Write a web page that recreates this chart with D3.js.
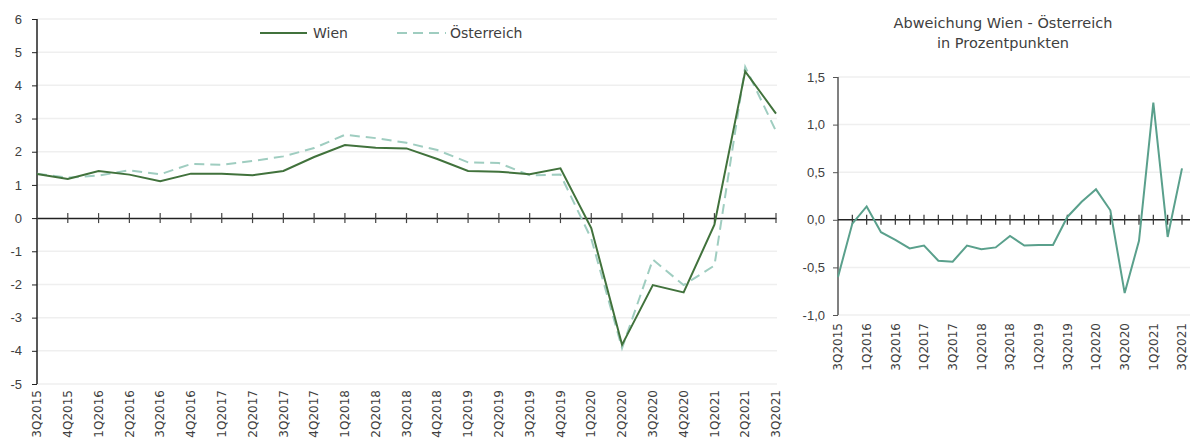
<!DOCTYPE html>
<html>
<head>
<meta charset="utf-8">
<script src="https://cdn.jsdelivr.net/npm/d3@7"></script>
<style>
  body { margin: 0; background: #fff; }
  svg { display: block; font-family: "DejaVu Sans", sans-serif; }
</style>
</head>
<body>
<div id="chart"></div>
<script>
// Data
var quarters = ['3Q2015', '4Q2015', '1Q2016', '2Q2016', '3Q2016', '4Q2016', '1Q2017', '2Q2017', '3Q2017',
  '4Q2017', '1Q2018', '2Q2018', '3Q2018', '4Q2018', '1Q2019', '2Q2019', '3Q2019', '4Q2019',
  '1Q2020', '2Q2020', '3Q2020', '4Q2020', '1Q2021', '2Q2021', '3Q2021'];

var wien = [1.33, 1.18, 1.42, 1.31, 1.11, 1.34, 1.34, 1.29, 1.42, 1.84, 2.20, 2.12, 2.10, 1.78,
  1.42, 1.40, 1.32, 1.50, -0.30, -3.82, -2.02, -2.24, -0.20, 4.42, 3.15];

var oesterreich = [1.34, 1.22, 1.28, 1.44, 1.32, 1.63, 1.61, 1.72, 1.86, 2.11, 2.51, 2.41, 2.27, 2.05,
  1.68, 1.66, 1.29, 1.31, -0.62, -3.92, -1.25, -2.02, -1.43, 4.56, 2.62];

var abweichung = [-0.60, -0.04, 0.14, -0.13, -0.21, -0.30, -0.27, -0.43, -0.44, -0.27, -0.31, -0.29,
  -0.17, -0.27, -0.265, -0.265, 0.03, 0.19, 0.32, 0.10, -0.77, -0.22, 1.23, -0.18, 0.54];

var leftTicks = [-5, -4, -3, -2, -1, 0, 1, 2, 3, 4, 5, 6];
var rightTicks = [-1.0, -0.5, 0.0, 0.5, 1.0, 1.5];

var svg = d3.select('#chart')
  .append('svg')
  .attr('width', 1190)
  .attr('height', 441);

var textColor = '#404040';

// ---------- left chart ----------
var left = { x0: 37, x1: 776, y0: 19, y1: 384 };

var xLeft = d3.scalePoint()
  .domain(quarters)
  .range([left.x0, left.x1]);

var yLeft = d3.scaleLinear()
  .domain([-5, 6])
  .range([left.y1, left.y0]);

var gLeft = svg.append('g');

// gridlines
gLeft.append('g')
  .selectAll('line')
  .data(leftTicks.filter(d => d !== 0))
  .enter()
  .append('line')
  .attr('x1', left.x0)
  .attr('x2', left.x1 + 1)
  .attr('y1', d => yLeft(d))
  .attr('y2', d => yLeft(d))
  .attr('stroke', '#efefef')
  .attr('stroke-width', 1.5);

// y axis
var yAxisLeft = gLeft.append('g')
  .attr('transform', `translate(${left.x0}, 0)`)
  .call(d3.axisLeft(yLeft).tickValues(leftTicks).tickSize(5).tickPadding(10).tickFormat(d3.format('d')));
yAxisLeft.select('.domain').attr('stroke', '#222').attr('stroke-width', 1.5).attr('d', `M0,${left.y0}V${left.y1}`);
yAxisLeft.selectAll('.tick line').attr('stroke', '#222');
yAxisLeft.selectAll('text')
  .attr('font-size', 13)
  .attr('fill', textColor)
  .text(d => d < 0 ? '-' + Math.abs(d) : d);

// zero axis with crossing ticks
var xAxisLeft = gLeft.append('g')
  .attr('transform', `translate(0, ${yLeft(0)})`)
  .call(d3.axisBottom(xLeft).tickSize(0).tickFormat(''));
xAxisLeft.select('.domain').attr('stroke', '#222').attr('stroke-width', 1.5);
gLeft.append('g')
  .selectAll('line')
  .data(quarters.slice(1))
  .enter()
  .append('line')
  .attr('x1', d => xLeft(d))
  .attr('x2', d => xLeft(d))
  .attr('y1', yLeft(0) - 5)
  .attr('y2', yLeft(0) + 5)
  .attr('stroke', '#444')
  .attr('stroke-width', 1.2);

// x labels
gLeft.append('g')
  .selectAll('text')
  .data(quarters)
  .enter()
  .append('text')
  .attr('transform', d => `translate(${xLeft(d)}, ${left.y1 + 6}) rotate(-90)`)
  .attr('text-anchor', 'end')
  .attr('dy', '0.35em')
  .attr('font-size', 12)
  .attr('fill', textColor)
  .text(d => d);

// lines
var lineLeft = (values) => d3.line()
  .x((d, i) => xLeft(quarters[i]))
  .y(d => yLeft(d))(values);

gLeft.append('path')
  .attr('d', lineLeft(oesterreich))
  .attr('fill', 'none')
  .attr('stroke', '#9fcdc0')
  .attr('stroke-width', 2)
  .attr('stroke-dasharray', '10,6');

gLeft.append('path')
  .attr('d', lineLeft(wien))
  .attr('fill', 'none')
  .attr('stroke', '#41723c')
  .attr('stroke-width', 2);

// legend
var legend = gLeft.append('g').attr('transform', 'translate(0, 33)');
legend.append('line')
  .attr('x1', 260).attr('x2', 307)
  .attr('stroke', '#41723c').attr('stroke-width', 2);
legend.append('text')
  .attr('x', 313).attr('dy', '0.35em')
  .attr('font-size', 14).attr('fill', textColor)
  .text('Wien');
legend.append('line')
  .attr('x1', 397).attr('x2', 446)
  .attr('stroke', '#9fcdc0').attr('stroke-width', 2)
  .attr('stroke-dasharray', '10,6');
legend.append('text')
  .attr('x', 450).attr('dy', '0.35em')
  .attr('font-size', 14).attr('fill', textColor)
  .text('Österreich');

// ---------- right chart ----------
var right = { x0: 838, x1: 1182, y0: 77, y1: 315 };

var xRight = d3.scalePoint()
  .domain(quarters)
  .range([right.x0, right.x1]);

var yRight = d3.scaleLinear()
  .domain([-1, 1.5])
  .range([right.y1, right.y0]);

var gRight = svg.append('g');

gRight.append('text')
  .attr('x', 1003).attr('y', 28)
  .attr('text-anchor', 'middle')
  .attr('font-size', 14.5).attr('fill', textColor)
  .text('Abweichung Wien - Österreich');
gRight.append('text')
  .attr('x', 1003).attr('y', 48)
  .attr('text-anchor', 'middle')
  .attr('font-size', 14.5).attr('fill', textColor)
  .text('in Prozentpunkten');

gRight.append('g')
  .selectAll('line')
  .data(rightTicks.filter(d => d !== 0))
  .enter()
  .append('line')
  .attr('x1', right.x0)
  .attr('x2', 1190)
  .attr('y1', d => yRight(d))
  .attr('y2', d => yRight(d))
  .attr('stroke', '#efefef')
  .attr('stroke-width', 1.5);

var yAxisRight = gRight.append('g')
  .attr('transform', `translate(${right.x0}, 0)`)
  .call(d3.axisLeft(yRight).tickValues(rightTicks).tickSize(5).tickPadding(8)
    .tickFormat(d => d3.format('.1f')(d).replace('.', ',').replace('−', '-')));
yAxisRight.select('.domain').attr('stroke', '#808080').attr('stroke-width', 2).attr('d', `M0,${right.y0}V${right.y1}`);
yAxisRight.selectAll('.tick line').attr('stroke', '#555');
yAxisRight.selectAll('text').attr('font-size', 13).attr('fill', textColor);

gRight.append('line')
  .attr('x1', right.x0).attr('x2', 1190)
  .attr('y1', yRight(0)).attr('y2', yRight(0))
  .attr('stroke', '#222').attr('stroke-width', 1.5);
gRight.append('g')
  .selectAll('line')
  .data(quarters.slice(1))
  .enter()
  .append('line')
  .attr('x1', d => xRight(d))
  .attr('x2', d => xRight(d))
  .attr('y1', yRight(0) - 5)
  .attr('y2', yRight(0) + 5)
  .attr('stroke', '#333')
  .attr('stroke-width', 1.2);

gRight.append('g')
  .selectAll('text')
  .data(quarters.filter((d, i) => i % 2 === 0))
  .enter()
  .append('text')
  .attr('transform', d => `translate(${xRight(d)}, ${right.y1 + 8}) rotate(-90)`)
  .attr('text-anchor', 'end')
  .attr('dy', '0.35em')
  .attr('font-size', 12)
  .attr('fill', textColor)
  .text(d => d);

gRight.append('path')
  .attr('d', d3.line()
    .x((d, i) => xRight(quarters[i]))
    .y(d => yRight(d))(abweichung))
  .attr('fill', 'none')
  .attr('stroke', '#5aa08c')
  .attr('stroke-width', 2);
</script>
</body>
</html>
